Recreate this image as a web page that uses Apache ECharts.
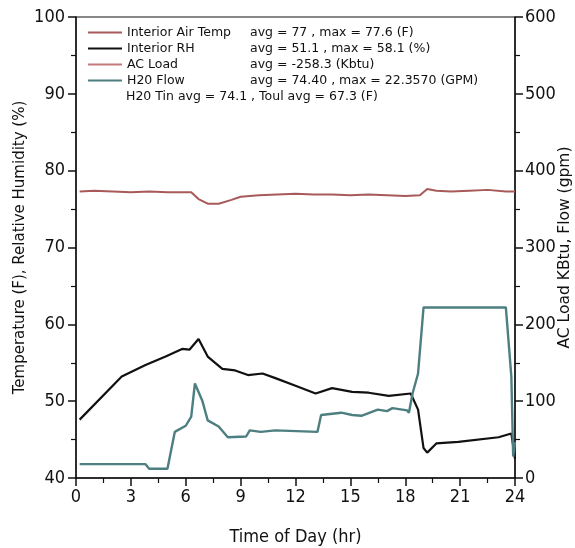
<!DOCTYPE html>
<html>
<head>
<meta charset="utf-8">
<script src="https://cdn.jsdelivr.net/npm/echarts@6/dist/echarts.min.js"></script>
<style>
  html, body { margin: 0; padding: 0; background: #fff; }
  #chart { width: 575px; height: 548px; }
</style>
</head>
<body>
<div id="chart"></div>
<script>
// Interior air temp (F) - hour, value
const tempHours = [0.2, 1, 2, 3, 4, 5, 6, 6.3, 6.7, 7.2, 7.8, 8.5, 9, 10, 11, 12, 13, 14, 15, 16, 17, 18, 18.8, 19.2, 19.7, 20.5, 21.5, 22.5, 23.5, 24];
const tempVals  = [77.3, 77.4, 77.3, 77.2, 77.3, 77.2, 77.2, 77.2, 76.3, 75.7, 75.7, 76.2, 76.6, 76.8, 76.9, 77.0, 76.9, 76.9, 76.8, 76.9, 76.8, 76.7, 76.8, 77.6, 77.4, 77.3, 77.4, 77.5, 77.3, 77.3];

// Interior RH (%)
const rhHours = [0.2, 2.5, 3.8, 4.9, 5.8, 6.2, 6.7, 7.2, 8.0, 8.7, 9.4, 10.2, 10.9, 12.0, 13.1, 14.0, 15.1, 16.0, 17.1, 18.3, 18.7, 19.0, 19.2, 19.7, 20.9, 23.1, 23.8, 24];
const rhVals  = [47.6, 53.2, 54.7, 55.8, 56.8, 56.7, 58.1, 55.8, 54.2, 54.0, 53.4, 53.6, 53.0, 52.0, 51.0, 51.7, 51.2, 51.1, 50.7, 51.0, 48.9, 43.9, 43.3, 44.5, 44.7, 45.3, 45.8, 42.5];

// H2O flow (gpm), right axis
const flowHours = [0.2, 3.8, 4.0, 5.0, 5.4, 6.0, 6.3, 6.5, 6.9, 7.2, 7.8, 8.3, 9.3, 9.5, 10.1, 10.9, 13.2, 13.4, 14.5, 15.1, 15.6, 16.5, 17.0, 17.3, 18.1, 18.2, 18.4, 18.7, 19.0, 23.5, 23.8, 23.9, 24];
const flowVals  = [18, 18, 12, 12, 60, 68, 80, 123, 101, 75, 67, 53, 54, 62, 60, 62, 60, 82, 85, 82, 81, 89, 87, 91, 88, 85, 110, 136, 222, 222, 132, 28, 47];

// AC load (KBtu) - off scale (negative), shown only in legend
const acHours = [];
const acVals  = [];

const legendStats = {
  'Interior Air Temp': 'avg = 77 , max = 77.6 (F)',
  'Interior RH': 'avg = 51.1 , max = 58.1 (%)',
  'AC Load': 'avg = -258.3 (Kbtu)',
  'H20 Flow': 'avg = 74.40 , max = 22.3570 (GPM)'
};
const extraLine = 'H20 Tin avg = 74.1 , Toul avg = 67.3 (F)';

const xTicks = { min: 0, max: 24, interval: 3 };

const pairs = (xs, ys) => xs.map((x, i) => [x, ys[i]]);

const narrow = "'Liberation Sans Narrow', 'DejaVu Sans Condensed', sans-serif";
const wide = "'DejaVu Sans', 'Liberation Sans', sans-serif";

const tickStyle = { show: true, length: 8, lineStyle: { color: '#111', width: 1.5 } };
const minorStyle = { show: true, splitNumber: 2, length: 5, lineStyle: { color: '#111', width: 1.2 } };

const chart = echarts.init(document.getElementById('chart'));
chart.setOption({
  animation: false,
  textStyle: { fontFamily: wide, color: '#111' },
  grid: {
    left: 76, right: 60, top: 17, bottom: 70,
    outerBoundsMode: 'none',
    show: true, borderColor: '#111', borderWidth: 1
  },
  legend: {
    orient: 'vertical',
    left: 88, top: 26, padding: 0,
    itemWidth: 34, itemHeight: 2, itemGap: 3,
    icon: 'rect',
    data: ['Interior Air Temp', 'Interior RH', 'AC Load', 'H20 Flow'],
    formatter: name => '{a|' + name + '}{b|' + legendStats[name] + '}',
    textStyle: {
      fontFamily: wide, fontSize: 12.5, color: '#111',
      rich: {
        a: { width: 123, fontFamily: wide, fontSize: 12.5 },
        b: { fontFamily: wide, fontSize: 12.5 }
      }
    }
  },
  graphic: [{
    type: 'text', left: 126, top: 90,
    style: { text: extraLine, font: '12.5px ' + wide, fill: '#111' }
  }],
  xAxis: {
    type: 'value',
    min: xTicks.min, max: xTicks.max, interval: xTicks.interval,
    name: 'Time of Day (hr)', nameLocation: 'middle', nameGap: 50,
    nameTextStyle: { fontSize: 18, fontFamily: narrow },
    axisLine: { lineStyle: { color: '#111', width: 1.5 } },
    axisTick: tickStyle,
    minorTick: minorStyle,
    axisLabel: { fontSize: 18, fontFamily: narrow, color: '#111', margin: 10 },
    splitLine: { show: false }
  },
  yAxis: [{
    type: 'value', min: 40, max: 100, interval: 10,
    name: 'Temperature (F), Relative Humidity (%)',
    nameLocation: 'middle', nameGap: 48,
    nameMoveOverlap: false,
    nameTextStyle: { fontSize: 15, fontFamily: wide },
    axisLine: { show: true, lineStyle: { color: '#111', width: 1.5 } },
    axisTick: tickStyle,
    minorTick: minorStyle,
    axisLabel: { fontSize: 18, fontFamily: narrow, color: '#111', margin: 11 },
    splitLine: { show: false }
  }, {
    type: 'value', min: 0, max: 600, interval: 100,
    position: 'right',
    name: 'AC Load KBtu, Flow (gpm)',
    nameLocation: 'middle', nameGap: 42, nameRotate: 90,
    nameMoveOverlap: false,
    nameTextStyle: { fontSize: 15.5, fontFamily: wide },
    axisLine: { show: true, lineStyle: { color: '#111', width: 1.5 } },
    axisTick: tickStyle,
    minorTick: minorStyle,
    axisLabel: { fontSize: 18, fontFamily: narrow, color: '#111', margin: 10 },
    splitLine: { show: false }
  }],
  series: [{
    name: 'Interior Air Temp', type: 'line', yAxisIndex: 0,
    showSymbol: false, color: '#a85a5a',
    lineStyle: { width: 2 },
    data: pairs(tempHours, tempVals)
  }, {
    name: 'Interior RH', type: 'line', yAxisIndex: 0,
    showSymbol: false, color: '#111',
    lineStyle: { width: 2.2 },
    data: pairs(rhHours, rhVals)
  }, {
    name: 'AC Load', type: 'line', yAxisIndex: 1,
    showSymbol: false, color: '#c47a7a',
    lineStyle: { width: 1.5 },
    data: pairs(acHours, acVals)
  }, {
    name: 'H20 Flow', type: 'line', yAxisIndex: 1,
    showSymbol: false, color: '#4d7f80',
    lineStyle: { width: 2.4 },
    data: pairs(flowHours, flowVals)
  }]
});
</script>
</body>
</html>
